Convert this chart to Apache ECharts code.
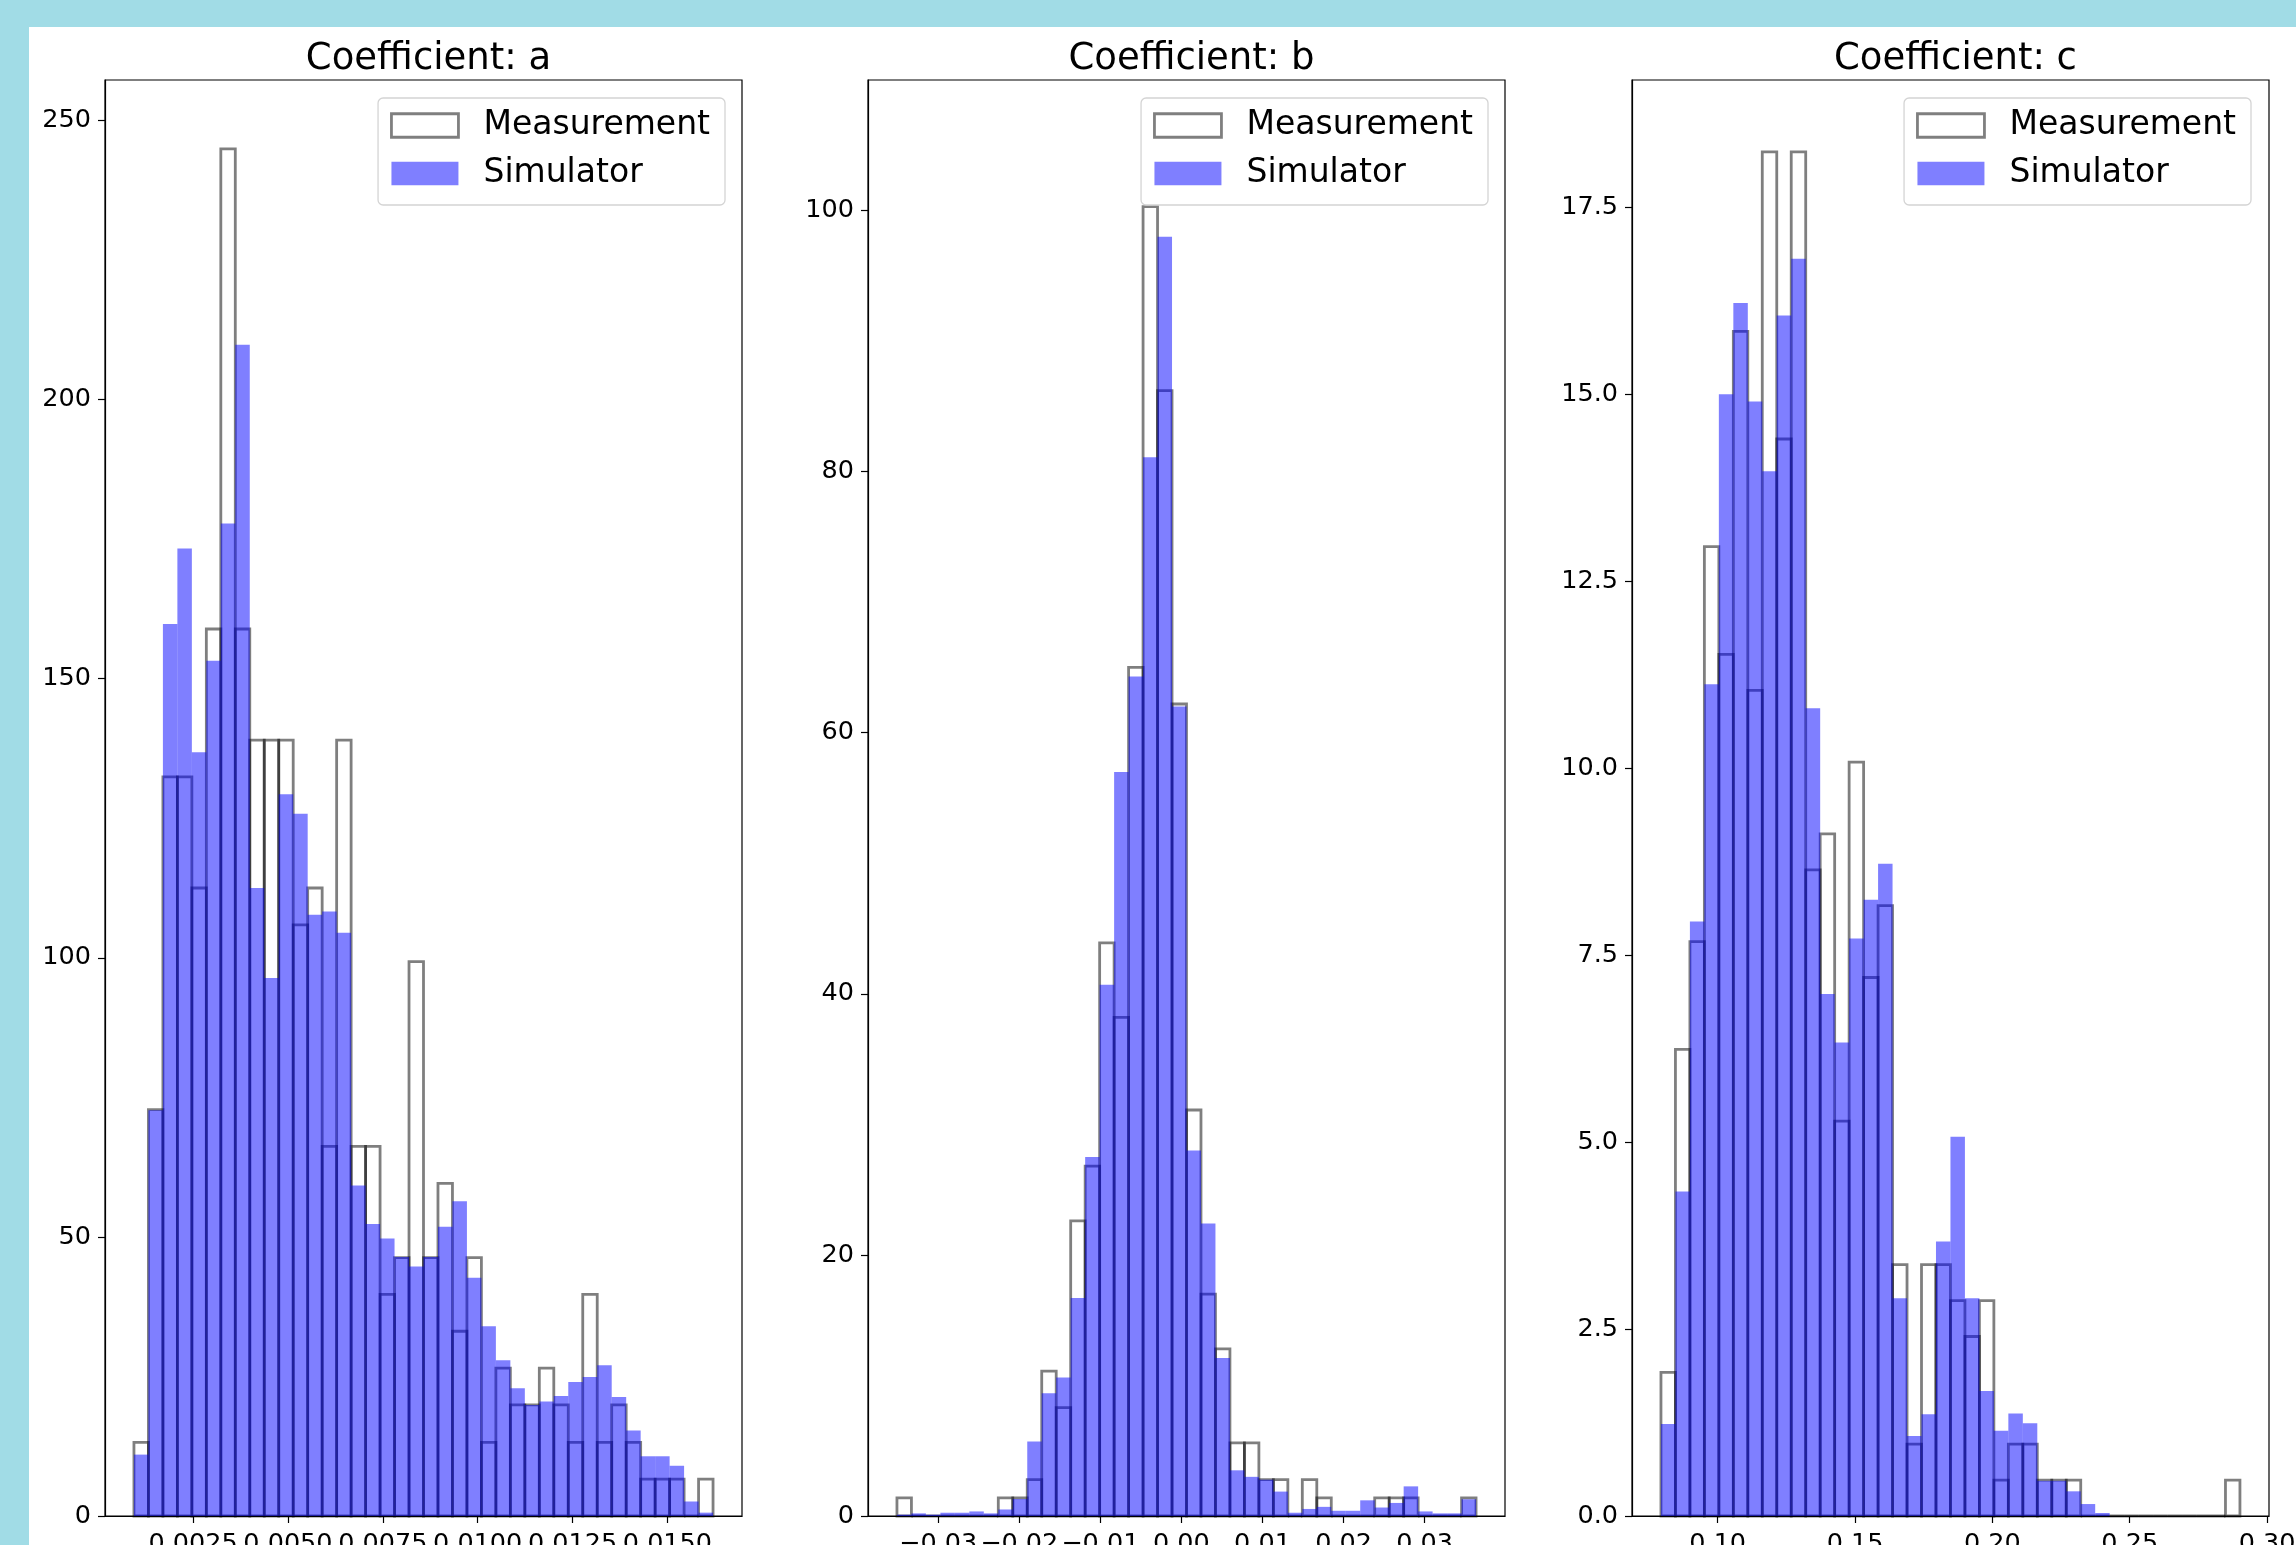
<!DOCTYPE html>
<html>
<head>
<meta charset="utf-8">
<script src="https://cdn.jsdelivr.net/npm/echarts@6/dist/echarts.min.js"></script>
<style>
  html, body { margin: 0; padding: 0; background: #a1dce6; overflow: hidden; }
  #paper { position: absolute; left: 29px; top: 27px; width: 2267px; height: 1518px; background: #fff; }
  #chart { position: absolute; left: 0; top: 0; width: 2296px; height: 1545px; }
</style>
</head>
<body>
<div id="paper"></div>
<div id="chart"></div>
<script>
// first and last bin edge of each panel, 40 equal bins in between
const aRange = [0.000942, 0.016202]
const bRange = [-0.03508, 0.036338]
const cRange = [0.079343, 0.290122]

// density heights per bin
const aMeasurement = [13.2, 72.8, 132.4, 132.4, 112.5, 158.9, 244.9, 158.9, 139.0, 139.0,
    139.0, 105.9, 112.5, 66.2, 139.0, 66.2, 66.2, 39.7, 46.3, 99.3,
    46.3, 59.6, 33.1, 46.3, 13.2, 26.5, 19.9, 19.9, 26.5, 19.9,
    13.2, 39.7, 13.2, 19.9, 13.2, 6.6, 6.6, 6.6, 0, 6.6]
const aSimulator = [11.0, 72.7, 159.8, 173.3, 136.8, 153.2, 177.8, 209.8, 112.5, 96.4,
    129.3, 125.8, 107.7, 108.3, 104.5, 59.2, 52.3, 49.7, 46.4, 44.7,
    46.4, 51.8, 56.4, 42.7, 34.0, 27.9, 22.9, 19.9, 20.5, 21.5,
    24.0, 24.9, 27.0, 21.3, 15.3, 10.7, 10.7, 9.0, 2.6, 0.6]

const bMeasurement = [1.39, 0, 0, 0, 0, 0, 0, 1.39, 1.39, 2.78,
    11.1, 8.3, 22.6, 26.8, 43.9, 38.2, 65.0, 100.3, 86.2, 62.2,
    31.1, 17.0, 12.8, 5.6, 5.6, 2.78, 2.78, 0, 2.78, 1.39,
    0, 0, 0, 1.39, 1.39, 1.39, 0, 0, 0, 1.39]
const bSimulator = [0.1, 0.2, 0.1, 0.25, 0.25, 0.35, 0.2, 0.5, 1.3, 5.7,
    9.4, 10.6, 16.7, 27.5, 40.7, 57.0, 64.3, 81.1, 98.0, 62.0,
    28.0, 22.4, 12.1, 3.5, 3.0, 2.78, 1.87, 0.25, 0.54, 0.7,
    0.4, 0.4, 1.2, 0.65, 1.0, 2.27, 0.35, 0.2, 0.2, 1.28]

const cMeasurement = [1.92, 6.24, 7.68, 12.96, 11.52, 15.84, 11.04, 18.24, 14.4, 18.24,
    8.64, 9.12, 5.28, 10.08, 7.2, 8.16, 3.36, 0.96, 3.36, 3.36,
    2.88, 2.4, 2.88, 0.48, 0.96, 0.96, 0.48, 0.48, 0.48, 0,
    0, 0, 0, 0, 0, 0, 0, 0, 0, 0.48]
const cSimulator = [1.23, 4.34, 7.95, 11.12, 15.0, 16.22, 14.9, 13.97, 16.05, 16.81,
    10.8, 6.98, 6.33, 7.72, 8.24, 8.72, 2.91, 1.07, 1.36, 3.67,
    5.07, 2.91, 1.67, 1.14, 1.37, 1.24, 0.47, 0.47, 0.33, 0.16,
    0.04, 0, 0, 0, 0, 0, 0, 0, 0, 0]

const titles = ['Coefficient: a', 'Coefficient: b', 'Coefficient: c']

const aXTicks = [0.0025, 0.005, 0.0075, 0.01, 0.0125, 0.015]
const bXTicks = [-0.03, -0.02, -0.01, 0, 0.01, 0.02, 0.03]
const cXTicks = [0.10, 0.15, 0.20, 0.25, 0.30]
const aYTicks = [0, 50, 100, 150, 200, 250]
const bYTicks = [0, 20, 40, 60, 80, 100]
const cYTicks = [0, 2.5, 5, 7.5, 10, 12.5, 15, 17.5]

const font = 'DejaVu Sans'

const panels = [
    { range: aRange, meas: aMeasurement, sim: aSimulator, xTicks: aXTicks, yTicks: aYTicks,
      xMin: 0.000179, xMax: 0.016965, yMax: 257.25, xDigits: 4, yDigits: 0, left: 105, legendRight: 1571 },
    { range: bRange, meas: bMeasurement, sim: bSimulator, xTicks: bXTicks, yTicks: bYTicks,
      xMin: -0.038651, xMax: 0.039909, yMax: 110.0, xDigits: 2, yDigits: 0, left: 868, legendRight: 808 },
    { range: cRange, meas: cMeasurement, sim: cSimulator, xTicks: cXTicks, yTicks: cYTicks,
      xMin: 0.0688, xMax: 0.3007, yMax: 19.2, xDigits: 2, yDigits: 1, left: 1632, legendRight: 45 }
]

function toBins(range, values) {
    const n = values.length
    const w = (range[1] - range[0]) / n
    return values.map((v, i) => [range[0] + w * i, range[0] + w * (i + 1), v])
}

function barShape(api) {
    const tl = api.coord([api.value(0), api.value(2)])
    const br = api.coord([api.value(1), 0])
    return { x: tl[0], y: tl[1], width: br[0] - tl[0], height: br[1] - tl[1] }
}

function fmt(digits) {
    return (v) => Number(v).toFixed(digits).replace('-', '\u2212')
}

const chart = echarts.init(document.getElementById('chart'))

const option = {
    animation: false,
    title: [],
    legend: [],
    grid: [],
    xAxis: [],
    yAxis: [],
    series: []
}

panels.forEach((p, i) => {
    option.title.push({
        text: titles[i],
        left: p.left + 318.5,
        textAlign: 'center',
        top: 36,
        textStyle: { fontFamily: font, fontSize: 37, fontWeight: 'normal', color: '#000' }
    })
    option.grid.push({
        left: p.left, top: 80, width: 637, height: 1436,
        outerBoundsMode: 'none', containLabel: false,
        show: true, borderColor: '#000', borderWidth: 1.2, backgroundColor: 'transparent'
    })
    option.xAxis.push({
        type: 'value', gridIndex: i, min: p.xMin, max: p.xMax,
        axisLine: { show: true, onZero: false, lineStyle: { color: '#000', width: 1.2 } },
        axisTick: { show: true, length: 7, lineStyle: { color: '#000', width: 1.2 }, customValues: p.xTicks },
        axisLabel: { customValues: p.xTicks, formatter: fmt(p.xDigits), fontFamily: font, fontSize: 25.5, color: '#000', margin: 15 },
        splitLine: { show: false }
    })
    option.yAxis.push({
        type: 'value', gridIndex: i, min: 0, max: p.yMax,
        axisLine: { show: true, onZero: false, lineStyle: { color: '#000', width: 1.2 } },
        axisTick: { show: true, length: 7, lineStyle: { color: '#000', width: 1.2 }, customValues: p.yTicks },
        axisLabel: { customValues: p.yTicks, formatter: fmt(p.yDigits), fontFamily: font, fontSize: 25.5, color: '#000', margin: 14 },
        splitLine: { show: false }
    })
    option.series.push({
        name: 'Measurement', type: 'custom', xAxisIndex: i, yAxisIndex: i, z: 2,
        encode: { x: [0, 1], y: 2 },
        data: toBins(p.range, p.meas),
        renderItem: (params, api) => ({
            type: 'rect', shape: barShape(api),
            style: { fill: 'none', stroke: 'rgba(0,0,0,0.5)', lineWidth: 2.8 }
        })
    })
    option.series.push({
        name: 'Simulator', type: 'custom', xAxisIndex: i, yAxisIndex: i, z: 3,
        encode: { x: [0, 1], y: 2 },
        data: toBins(p.range, p.sim),
        renderItem: (params, api) => ({
            type: 'rect', shape: barShape(api),
            style: { fill: 'rgba(0,0,255,0.5)' }
        })
    })
    option.legend.push({
        orient: 'vertical', right: p.legendRight, top: 98,
        selectedMode: false,
        backgroundColor: '#fff', borderColor: '#d4d4d4', borderWidth: 1.3, borderRadius: 5,
        padding: [7, 15, 11, 12],
        itemWidth: 67, itemHeight: 23.5, itemGap: 7,
        textStyle: { fontFamily: font, fontSize: 33, color: '#000', lineHeight: 36, padding: [5, 0, 0, 20] },
        data: [
            { name: 'Measurement', icon: 'rect', itemStyle: { color: '#fff', borderColor: 'rgba(0,0,0,0.5)', borderWidth: 2.8 } },
            { name: 'Simulator', icon: 'rect', itemStyle: { color: 'rgba(0,0,255,0.5)', borderWidth: 0 } }
        ]
    })
})

chart.setOption(option)
</script>
</body>
</html>
